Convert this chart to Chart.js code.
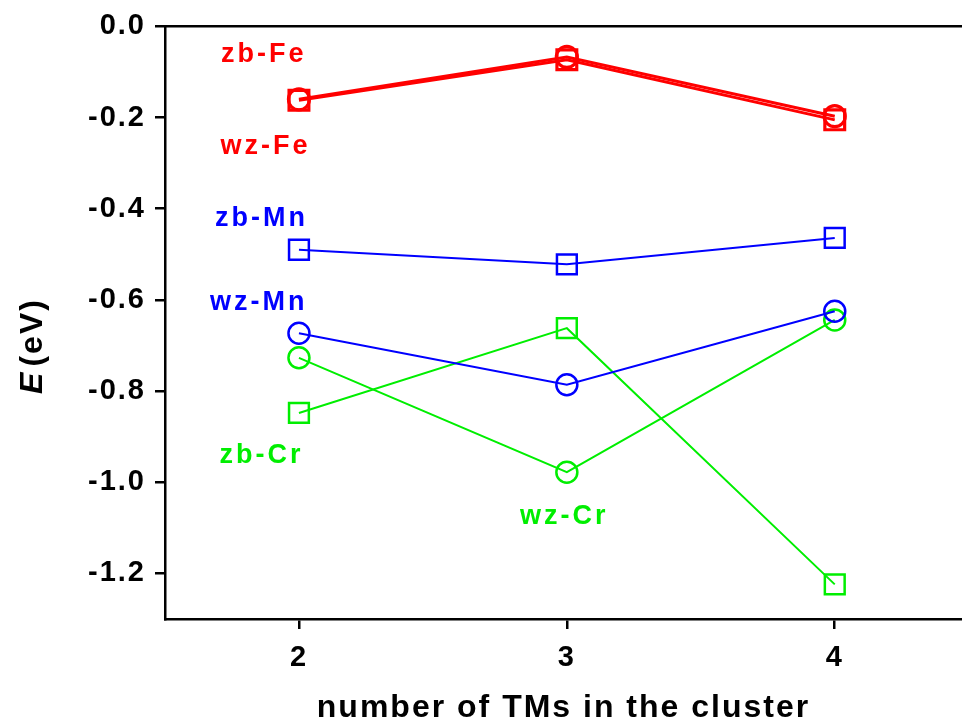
<!DOCTYPE html>
<html>
<head>
<meta charset="utf-8">
<script src="https://cdn.jsdelivr.net/npm/chart.js@4"></script>
<style>
  html, body { margin: 0; padding: 0; background: #fff; overflow: hidden; }
  #clusterChart { display: block; }
</style>
</head>
<body>
<canvas id="clusterChart" width="962" height="727"></canvas>
<script>
// number of TMs in the cluster
const clusterSizes = [2, 3, 4];

// energies (eV)
const zbFe = [-0.162, -0.073, -0.205];
const wzFe = [-0.160, -0.067, -0.197];
const zbMn = [-0.490, -0.522, -0.464];
const wzMn = [-0.673, -0.786, -0.625];
const zbCr = [-0.848, -0.662, -1.224];
const wzCr = [-0.727, -0.978, -0.644];

const yTicks = [0.0, -0.2, -0.4, -0.6, -0.8, -1.0, -1.2];

// in-plot labels: text, x, y (data units)
const labelText = ['zb-Fe', 'wz-Fe', 'zb-Mn', 'wz-Mn', 'zb-Cr', 'wz-Cr'];
const labelX = [1.869, 1.875, 1.86, 1.85, 1.86, 2.99];
const labelY = [-0.061, -0.264, -0.421, -0.605, -0.941, -1.075];

const RED = '#ff0000';
const BLUE = '#0000ff';
const GREEN = '#00ee00';
const labelColors = [RED, RED, BLUE, BLUE, GREEN, GREEN];

const FONT = '"Liberation Sans", Arial, sans-serif';

function toPoints(values) {
    return values.map((v, i) => ({ x: clusterSizes[i], y: v }));
}

function series(label, values, color, style, width) {
    return {
        label: label,
        data: toPoints(values),
        borderColor: color,
        backgroundColor: 'transparent',
        borderWidth: width,
        pointStyle: style,
        pointRadius: style === 'rect' ? 14 : 10.5,
        pointBorderWidth: width > 2 ? 3.2 : 2.5,
        pointBorderColor: color,
        pointBackgroundColor: 'transparent',
        tension: 0,
        fill: false
    };
}

// the original lettering is spaced out a bit
const spacingPlugin = {
    id: 'spacingPlugin',
    beforeDraw(chart) {
        chart.ctx.letterSpacing = '2px';
    }
};

// labels inside the plot and the rotated y title with italic E
const textPlugin = {
    id: 'textPlugin',
    afterDatasetsDraw(chart) {
        const ctx = chart.ctx;
        const xs = chart.scales.x;
        const ys = chart.scales.y;
        ctx.save();
        ctx.font = 'bold 27px ' + FONT;
        ctx.letterSpacing = '3px';
        ctx.textAlign = 'center';
        ctx.textBaseline = 'middle';
        labelText.forEach((t, i) => {
            ctx.fillStyle = labelColors[i];
            ctx.fillText(t, xs.getPixelForValue(labelX[i]), ys.getPixelForValue(labelY[i]));
        });
        ctx.restore();

        // y axis title
        ctx.save();
        ctx.translate(33, 346);
        ctx.rotate(-Math.PI / 2);
        ctx.letterSpacing = '2px';
        ctx.fillStyle = '#000';
        ctx.textBaseline = 'middle';
        ctx.textAlign = 'left';
        const italic = 'italic bold 32px ' + FONT;
        const normal = 'bold 32px ' + FONT;
        ctx.font = italic;
        const wE = ctx.measureText('E').width;
        ctx.font = normal;
        const wRest = ctx.measureText('(eV)').width;
        const gap = 4;
        const start = -(wE + gap + wRest) / 2;
        ctx.font = italic;
        ctx.fillText('E', start, 0);
        ctx.font = normal;
        ctx.fillText('(eV)', start + wE + gap, 0);
        ctx.restore();
    }
};

const ctx = document.getElementById('clusterChart').getContext('2d');
new Chart(ctx, {
    type: 'line',
    data: {
        datasets: [
            series('zb-Fe', zbFe, RED, 'rect', 3),
            series('wz-Fe', wzFe, RED, 'circle', 3),
            series('zb-Mn', zbMn, BLUE, 'rect', 2),
            series('wz-Mn', wzMn, BLUE, 'circle', 2),
            series('zb-Cr', zbCr, GREEN, 'rect', 2),
            series('wz-Cr', wzCr, GREEN, 'circle', 2)
        ]
    },
    options: {
        responsive: false,
        animation: false,
        layout: { padding: 0, autoPadding: false },
        plugins: {
            legend: { display: false },
            tooltip: { enabled: false }
        },
        scales: {
            x: {
                type: 'linear',
                position: 'bottom',
                min: 1.5,
                max: 4.475,
                afterBuildTicks: scale => { scale.ticks = clusterSizes.map(v => ({ value: v })); },
                afterFit: scale => { scale.height = 108; },
                border: { display: true, color: '#000', width: 2.5 },
                grid: { drawOnChartArea: false, color: '#000', lineWidth: 2.5, tickLength: 10 },
                ticks: {
                    color: '#000',
                    padding: 12,
                    font: { family: FONT, size: 29, weight: 'bold' },
                    callback: v => String(v)
                },
                title: {
                    display: true,
                    text: 'number of TMs in the cluster',
                    color: '#000',
                    padding: { top: 0, bottom: 0 },
                    font: { family: FONT, size: 32, weight: 'bold' }
                }
            },
            xTop: {
                type: 'linear',
                position: 'top',
                min: 1.5,
                max: 4.475,
                afterFit: scale => { scale.height = 24; },
                border: { display: true, color: '#000', width: 2.5 },
                grid: { display: false },
                ticks: { display: false }
            },
            y: {
                type: 'linear',
                min: -1.3,
                max: 0,
                afterBuildTicks: scale => { scale.ticks = yTicks.map(v => ({ value: v })); },
                afterFit: scale => { scale.width = 165; },
                border: { display: true, color: '#000', width: 2.5 },
                grid: { drawOnChartArea: false, color: '#000', lineWidth: 2.5, tickLength: 10 },
                ticks: {
                    color: '#000',
                    padding: 9,
                    font: { family: FONT, size: 29, weight: 'bold' },
                    callback: v => v.toFixed(1)
                }
            }
        }
    },
    plugins: [spacingPlugin, textPlugin]
});
</script>
</body>
</html>
